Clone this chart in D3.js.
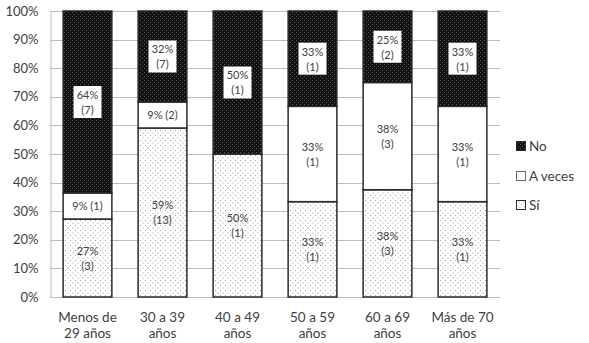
<!DOCTYPE html>
<html>
<head>
<meta charset="utf-8">
<script src="https://cdn.jsdelivr.net/npm/d3@7"></script>
<style>
  body { margin: 0; background: #fff; }
  text { font-family: Lato, "Open Sans", sans-serif; fill: #404040; }
</style>
</head>
<body>
<div id="chart"></div>
<script>
// age groups (two lines each)
var categories = ["Menos de|29 años", "30 a 39|años", "40 a 49|años", "50 a 59|años", "60 a 69|años", "Más de 70|años"];
// counts per answer
var si     = [3, 13, 1, 1, 3, 1];
var aveces = [1, 2, 0, 1, 3, 1];
var no     = [7, 7, 1, 1, 2, 1];
var seriesNames = ["Sí", "A veces", "No"];
var yTicks = [0, 0.1, 0.2, 0.3, 0.4, 0.5, 0.6, 0.7, 0.8, 0.9, 1];

var width = 589, height = 343;
var margin = { left: 50, right: 89, top: 11, bottom: 46 };

var svg = d3.select("#chart").append("svg")
    .attr("width", width)
    .attr("height", height);

// patterns
var defs = svg.append("defs");
var pSi = defs.append("pattern").attr("id", "pSi")
    .attr("patternUnits", "userSpaceOnUse").attr("width", 5).attr("height", 5);
pSi.append("rect").attr("width", 5).attr("height", 5).attr("fill", "#fff");
pSi.append("rect").attr("x", 0).attr("y", 0).attr("width", 1).attr("height", 1).attr("fill", "#a0a0a0");
pSi.append("rect").attr("x", 2.5).attr("y", 2.5).attr("width", 1).attr("height", 1).attr("fill", "#a0a0a0");

var pNo = defs.append("pattern").attr("id", "pNo")
    .attr("patternUnits", "userSpaceOnUse").attr("width", 4).attr("height", 4);
pNo.append("rect").attr("width", 4).attr("height", 4).attr("fill", "#111");
pNo.append("rect").attr("x", 0).attr("y", 0).attr("width", 1).attr("height", 1).attr("fill", "#5a5a5a");
pNo.append("rect").attr("x", 2).attr("y", 2).attr("width", 1).attr("height", 1).attr("fill", "#5a5a5a");

var fills = { "Sí": "url(#pSi)", "A veces": "#fff", "No": "url(#pNo)" };

// table for the stack
var table = categories.map(function (c, i) {
    return { cat: c, "Sí": si[i], "A veces": aveces[i], "No": no[i] };
});

var stack = d3.stack().keys(seriesNames).offset(d3.stackOffsetExpand);
var layers = stack(table);

var x = d3.scaleBand()
    .domain(categories)
    .range([margin.left, width - margin.right])
    .paddingInner(0.35)
    .paddingOuter(0.175);

var y = d3.scaleLinear()
    .domain([0, 1])
    .range([height - margin.bottom, margin.top]);

// gridlines
svg.append("g")
    .selectAll("line")
    .data(yTicks)
    .enter().append("line")
    .attr("x1", margin.left)
    .attr("x2", width - margin.right)
    .attr("y1", function (d) { return Math.round(y(d)) + 0.5; })
    .attr("y2", function (d) { return Math.round(y(d)) + 0.5; })
    .attr("stroke", "#bcbcbc");

// y axis
var yAxis = d3.axisLeft(y).tickValues(yTicks).tickFormat(d3.format(".0%")).tickSize(0).tickPadding(12);
var yg = svg.append("g")
    .attr("transform", "translate(" + (margin.left + 0.5) + ",0)")
    .call(yAxis);
yg.select(".domain").attr("stroke", "#bcbcbc");
yg.selectAll("text").style("font-size", "13px").attr("fill", "#404040");

// bars
layers.forEach(function (layer) {
    var key = layer.key;
    var g = svg.append("g");
    g.selectAll("rect")
        .data(layer)
        .enter().append("rect")
        .filter(function (d) { return d[1] - d[0] > 0; })
        .attr("x", function (d) { return x(d.data.cat); })
        .attr("y", function (d) { return y(d[1]); })
        .attr("width", x.bandwidth())
        .attr("height", function (d) { return y(d[0]) - y(d[1]); })
        .attr("fill", fills[key])
        .attr("stroke", "#2a2a2a")
        .attr("stroke-width", 1.5);
});

// labels
var pct = d3.format(".0%");
layers.forEach(function (layer) {
    var key = layer.key;
    layer.forEach(function (d, i) {
        var share = d[1] - d[0];
        if (share <= 0) return;
        var cx = x(d.data.cat) + x.bandwidth() / 2;
        var cy = y((d[0] + d[1]) / 2);
        var count = d.data[key];
        var g = svg.append("g");
        if (share < 0.12) {
            g.append("text")
                .attr("x", cx).attr("y", cy)
                .attr("dy", "0.35em")
                .attr("text-anchor", "middle")
                .style("font-size", "11px")
                .text(pct(share) + " (" + count + ")");
        } else {
            if (key === "No") {
                g.append("rect")
                    .attr("x", cx - 14).attr("y", cy - 16)
                    .attr("width", 28).attr("height", 32)
                    .attr("fill", "#fff");
            }
            g.append("text")
                .attr("x", cx).attr("y", cy - 7)
                .attr("dy", "0.35em")
                .attr("text-anchor", "middle")
                .style("font-size", "11px")
                .text(pct(share));
            g.append("text")
                .attr("x", cx).attr("y", cy + 8)
                .attr("dy", "0.35em")
                .attr("text-anchor", "middle")
                .style("font-size", "11px")
                .text("(" + count + ")");
        }
    });
});

// x labels
var xl = svg.append("g");
categories.forEach(function (c) {
    var parts = c.split("|");
    var t = xl.append("text")
        .attr("text-anchor", "middle")
        .style("font-size", "13.5px");
    parts.forEach(function (p, j) {
        t.append("tspan")
            .attr("x", x(c) + x.bandwidth() / 2)
            .attr("y", 322 + j * 16)
            .text(p);
    });
});

// legend
var legend = svg.append("g").attr("transform", "translate(516,140)");
var legendKeys = ["No", "A veces", "Sí"];
var legendY = [0, 30, 59];
legendKeys.forEach(function (k, i) {
    var lg = legend.append("g").attr("transform", "translate(0," + legendY[i] + ")");
    lg.append("rect")
        .attr("x", 0.5).attr("y", 1.5)
        .attr("width", 9).attr("height", 9)
        .attr("fill", fills[k])
        .attr("stroke", k === "A veces" ? "#666" : "#2a2a2a")
        .attr("stroke-width", 1);
    lg.append("text")
        .attr("x", 13).attr("y", 6)
        .attr("dy", "0.35em")
        .style("font-size", "13.5px")
        .text(k);
});
</script>
</body>
</html>
